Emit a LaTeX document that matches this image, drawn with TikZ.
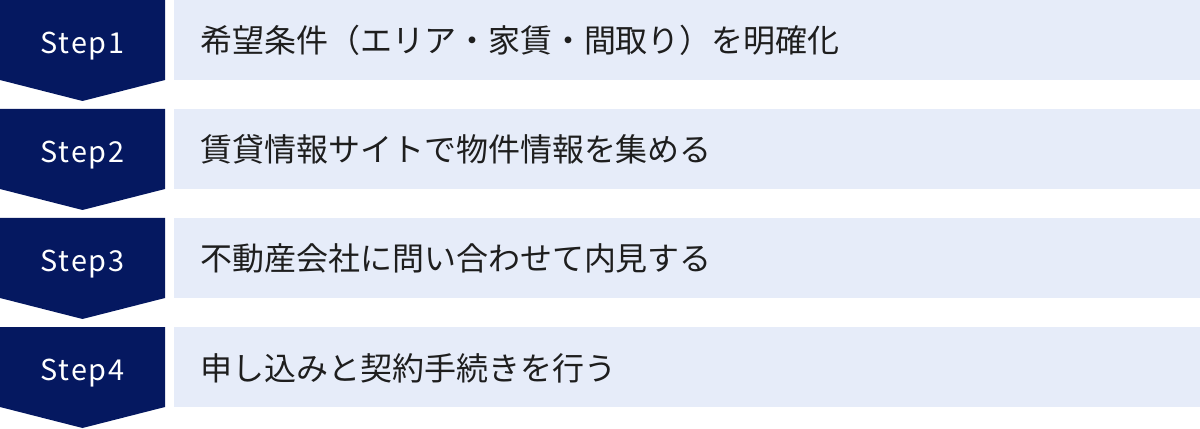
\documentclass[tikz,border=0pt]{standalone}
\usepackage{fontspec}
\setmainfont{Noto Sans CJK JP}
\newfontfamily\stepfont[LetterSpace=6]{Noto Sans CJK JP}
\usetikzlibrary{calc}
\definecolor{stepnavy}{HTML}{051860}
\definecolor{taskblue}{HTML}{E6ECF9}
\definecolor{taskink}{HTML}{1E1E1E}

\begin{document}
\begin{tikzpicture}[
    chevron/.style={fill=stepnavy},
    task box/.style={fill=taskblue},
    step label/.style={text=white, anchor=base, font=\stepfont\fontsize{16.4}{18}\selectfont},
    task label/.style={text=taskink, anchor=base west, font=\fontsize{18.2}{20}\selectfont}]
    \useasboundingbox (0,0) rectangle (24,-8.58);
    \foreach \i/\task in {1/{希望条件（エリア・家賃・間取り）を明確化},
                          2/{賃貸情報サイトで物件情報を集める},
                          3/{不動産会社に問い合わせて内見する},
                          4/{申し込みと契約手続きを行う}}{
      \coordinate (top\i) at (0,{-2.18*(\i-1)});
      \fill[chevron] (top\i) -- ++(3.3,0) -- ++(0,-1.6) -- ++(-1.65,-0.42)
            -- ++(-1.65,0.42) -- cycle;
      \fill[task box] ($(top\i)+(3.48,0)$) rectangle ++(20.52,-1.6);
      \node[step label] (step\i) at ($(top\i)+(1.65,-1.066)$) {Step\i};
      \node[task label] (task\i) at ($(top\i)+(3.88,-1.06)$) {\task};
    }
\end{tikzpicture}
\end{document}
